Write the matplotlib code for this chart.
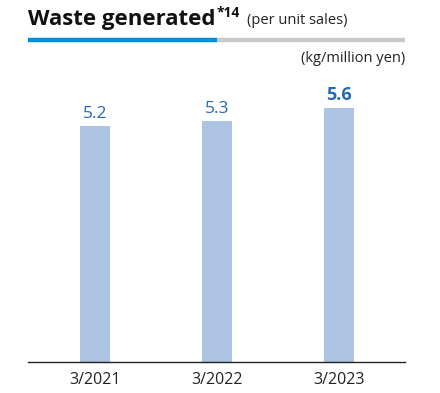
import matplotlib.pyplot as plt
from matplotlib.lines import Line2D

plt.rcParams['font.family'] = ['Open Sans', 'DejaVu Sans']

years = ["3/2021", "3/2022", "3/2023"]
waste = [5.2, 5.3, 5.6]

bar_color = "#adc3e2"
label_color = "#2469b3"

fig = plt.figure(figsize=(4.4, 3.93), dpi=100)
ax = fig.add_axes([28/440, 31/393, 377/440, 262/393])

x = range(len(years))
ax.bar(x, waste, width=0.246, color=bar_color, zorder=2)
ax.set_xlim(-0.549, 2.541)
ax.set_ylim(0, 262/45.4)

for i, v in enumerate(waste):
    last = i == len(waste) - 1
    ax.annotate(f"{v:.1f}", (i, v), xytext=(0, 3), textcoords="offset points",
                ha="center", va="bottom", color=label_color,
                fontsize=13 if last else 12.5,
                fontweight="bold" if last else "normal")

ax.set_xticks(list(x))
ax.set_xticklabels(years, fontsize=11.5, color="#222222")
ax.tick_params(axis="x", length=0, pad=7)
ax.set_yticks([])
for s in ["top", "right", "left"]:
    ax.spines[s].set_visible(False)
ax.spines["bottom"].set_color("#222222")
ax.spines["bottom"].set_linewidth(1.0)

# heading with superscript note and subtitle
t = fig.text(28/440, 1 - 19/393, "Waste generated", fontsize=16,
             fontweight="bold", va="center", ha="left", color="#111111")
fig.canvas.draw()
bb = t.get_window_extent()
x1 = bb.x1 / fig.bbox.width
fig.text(x1 + 0.002, 1 - 13/393, "*14", fontsize=10, fontweight="bold",
         va="center", ha="left", color="#111111")
fig.text(x1 + 0.072, 1 - 20/393, "(per unit sales)", fontsize=10.5,
         va="center", ha="left", color="#222222")

# two-tone rule under the heading
y_rule = 1 - 39.5/393
fig.add_artist(Line2D([28/440, 217/440], [y_rule, y_rule], color="#0090da",
                      linewidth=3.2, solid_capstyle="butt"))
fig.add_artist(Line2D([217/440, 405/440], [y_rule, y_rule], color="#c8c9c9",
                      linewidth=3.2, solid_capstyle="butt"))

fig.text(405/440, 1 - 58/393, "(kg/million yen)", fontsize=10.5,
         va="center", ha="right", color="#222222")

fig.savefig("out.png", dpi=100)
